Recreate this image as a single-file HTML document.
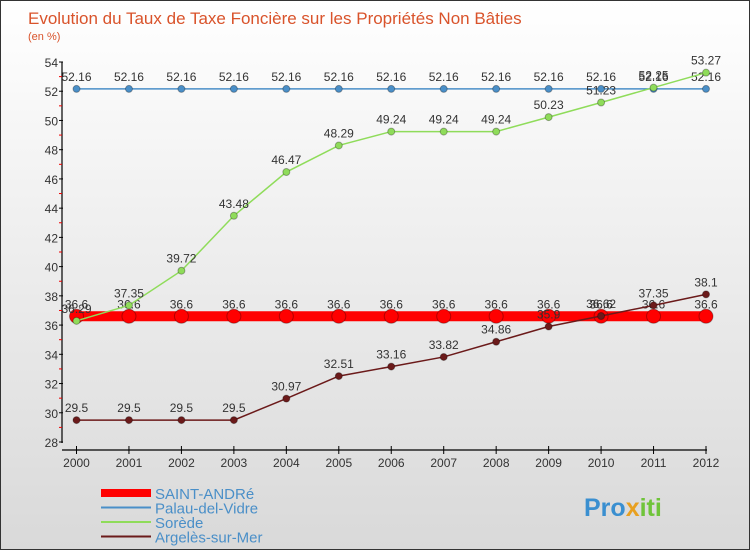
<!DOCTYPE html>
<html><head><meta charset="utf-8"><style>
body{margin:0;width:750px;height:550px;overflow:hidden;font-family:"Liberation Sans",sans-serif}
#wrap{position:relative;width:748px;height:548px;border:1px solid #333;background:linear-gradient(#fff,#d9d9d9)}
</style></head><body>
<div id="wrap">
<svg id="chart" width="748" height="548"></svg>
</div>
<script>
const years=[2000,2001,2002,2003,2004,2005,2006,2007,2008,2009,2010,2011,2012];
const yTicks=[28,30,32,34,36,38,40,42,44,46,48,50,52,54];
const saint=[36.6,36.6,36.6,36.6,36.6,36.6,36.6,36.6,36.6,36.6,36.6,36.6,36.6];
const palau=[52.16,52.16,52.16,52.16,52.16,52.16,52.16,52.16,52.16,52.16,52.16,52.16,52.16];
const sorede=[36.29,37.35,39.72,43.48,46.47,48.29,49.24,49.24,49.24,50.23,51.23,52.25,53.27];
const argeles=[29.5,29.5,29.5,29.5,30.97,32.51,33.16,33.82,34.86,35.9,36.62,37.35,38.1];
const NS="http://www.w3.org/2000/svg",svg=document.getElementById('chart');
const X=i=>75.5+i*(629.5/12), Y=v=>441-(v-28)*(380/26);
function el(t,a,txt){const e=document.createElementNS(NS,t);for(const k in a)e.setAttribute(k,a[k]);if(txt!=null)e.textContent=txt;svg.appendChild(e);return e;}
let t=el('text',{x:27,y:23,'font-size':17,fill:'#d9532b'},'Evolution du Taux de Taxe Foncière sur les Propriétés Non Bâties');


t=el('text',{x:27,y:39,'font-size':11,fill:'#d9532b'},'(en %)');


let a=el('line',{x1:61,y1:61,x2:61,y2:442,stroke:'#000','stroke-width':1.2});


a=el('line',{x1:61,y1:449,x2:706,y2:449,stroke:'#000','stroke-width':1.2});


yTicks.forEach(v=>{
 el('line',{x1:58,y1:Y(v),x2:62,y2:Y(v),stroke:'#000'});
 if(v<54)el('line',{x1:58,y1:Y(v+1),x2:61,y2:Y(v+1),stroke:'#e00'});
 const l=el('text',{x:57,y:Y(v)+5,'font-size':12,fill:'#333','text-anchor':'end'},v);
 
 
});
years.forEach((y,i)=>{
 el('line',{x1:X(i),y1:445,x2:X(i),y2:453,stroke:'#000'});
 const l=el('text',{x:X(i),y:466,'font-size':12,fill:'#333','text-anchor':'middle'},y);
 
 
});
function series(d,color,w,r,name){
 const p=el('polyline',{points:d.map((v,i)=>X(i)+','+Y(v)).join(' '),fill:'none',stroke:color,'stroke-width':w});
 
 
 d.forEach((v,i)=>{
  const c=el('circle',{cx:X(i),cy:Y(v),r:r,fill:color,stroke:'rgba(0,0,0,0.3)','stroke-width':1});
  
  
  const l=el('text',{x:X(i),y:Y(v)-8,'font-size':12,fill:'#333','text-anchor':'middle'},String(v));
  
  
 });
}
series(saint,'#f00',10,7,'saint-andre');
series(palau,'#4a8fc8',1.5,3.5,'palau-del-vidre');
series(sorede,'#8fdc5a',1.5,3.5,'sorede');
series(argeles,'#6b1a1a',1.5,3.5,'argeles-sur-mer');
const legend=[['SAINT-ANDRé','#f00',8],['Palau-del-Vidre','#4a8fc8',2],['Sorède','#8fdc5a',2],['Argelès-sur-Mer','#6b1a1a',2]];
legend.forEach((g,i)=>{
 const y=492+i*14.5;
 const l=el('line',{x1:100,y1:y,x2:150,y2:y,stroke:g[1],'stroke-width':g[2]});
 
 
 const tx=el('text',{x:154,y:y+6,'font-size':15,fill:'#4a8fc8'},g[0]);
 
 
});
const logo=el('text',{x:583,y:515,'font-size':25,'font-weight':'bold',fill:'#e8a020'},'');


[['Pro','#3a8fd0'],['x','#e8a020'],['iti','#6fc43a']].forEach(p=>{const s=document.createElementNS(NS,'tspan');s.setAttribute('fill',p[1]);s.textContent=p[0];logo.appendChild(s);});
</script>
</body></html>
